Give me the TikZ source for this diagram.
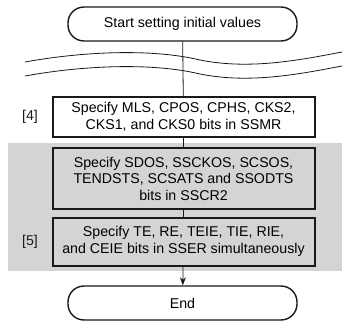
\documentclass[tikz,border=0pt]{standalone}
\usepackage{fontspec}
\setmainfont{Liberation Sans}
\usepackage{tikz}
\usetikzlibrary{arrows.meta,positioning}
\definecolor{bandgray}{RGB}{212,212,212}
\definecolor{inkdark}{RGB}{25,25,25}

\begin{document}
\begin{tikzpicture}[x=1pt, y=-1pt,
    terminal/.style={rectangle, rounded corners=16pt, draw=inkdark, line width=1.4pt, fill=white,
                     minimum width=229pt, minimum height=34pt, font=\fontsize{14.2}{16.5}\selectfont},
    regbox/.style={rectangle, draw=inkdark, line width=2pt, fill=white, align=center,
                   minimum width=262pt, inner sep=2pt, font=\fontsize{14.2}{16.5}\selectfont},
    shaded/.style={regbox, fill=bandgray},
    steplabel/.style={font=\fontsize{14.2}{16.5}\selectfont, text=inkdark},
    link/.style={draw=inkdark, line width=0.8pt},
    breakline/.style={draw=inkdark, line width=0.8pt}
]
    \useasboundingbox (0,0) rectangle (342,323);
    \fill[bandgray] (8,143) rectangle (342,271);
    \node[terminal] (start) at (182.5,24) {Start setting initial values};
    \node[regbox, minimum height=40pt] (ssmr) at (183.5,117)
        {Specify MLS, CPOS, CPHS, CKS2,\\CKS1, and CKS0 bits in SSMR};
    \node[shaded, minimum height=61pt] (sscr) at (183.5,178.5)
        {Specify SDOS, SSCKOS, SCSOS,\\TENDSTS, SCSATS and SSODTS\\bits in SSCR2};
    \node[shaded, minimum height=48pt] (sser) at (183.5,241.5)
        {Specify TE, RE, TEIE, TIE, RIE,\\and CEIE bits in SSER simultaneously};
    \node[terminal] (finish) at (182.5,303) {End};
    \node[steplabel] (lbl4) at (30,117) {[4]};
    \node[steplabel] (lbl5) at (30,242) {[5]};
    % connectors
    \draw[link] (start) -- (ssmr);
    \draw[link] (ssmr) -- (sscr);
    \draw[link] (sscr) -- (sser);
    \draw[link, -{Stealth[length=8pt, width=6pt]}] (sser) -- (finish);
    % break in the flow
    \draw[breakline] (25,62) .. controls (80,52) and (150,48) .. (200,60)
        .. controls (250,70) and (300,60) .. (342,52);
    \draw[breakline] (25,76) .. controls (80,66) and (150,62) .. (200,74)
        .. controls (250,84) and (300,74) .. (342,66);
\end{tikzpicture}
\end{document}
